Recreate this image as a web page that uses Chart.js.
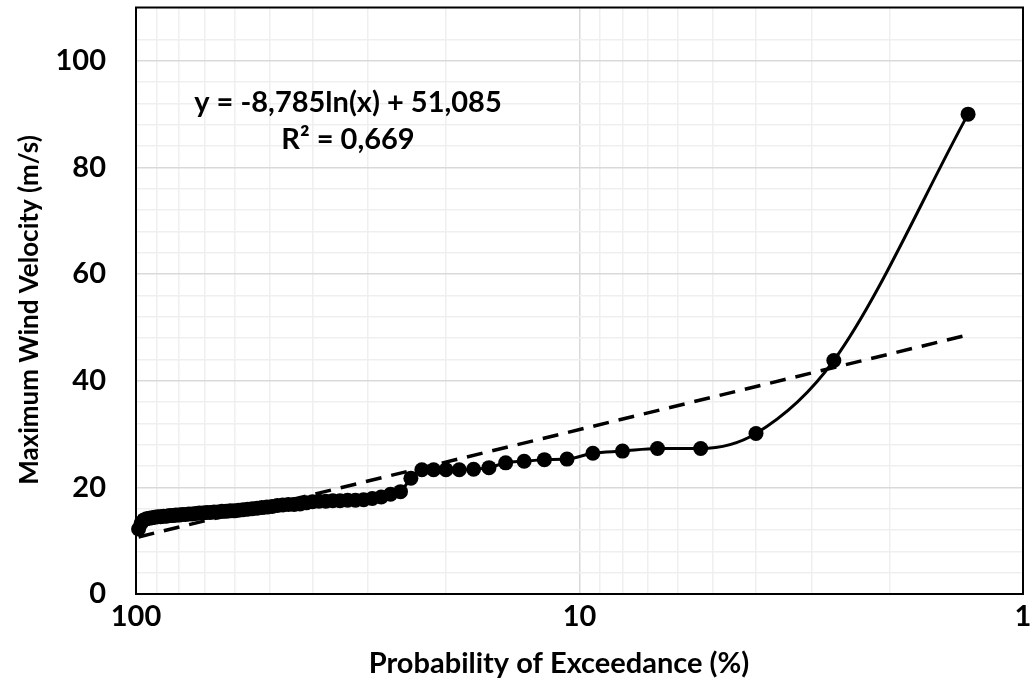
<!DOCTYPE html>
<html>
<head>
<meta charset="utf-8">
<script src="https://cdn.jsdelivr.net/npm/chart.js@4/dist/chart.umd.min.js"></script>
<style>
  html, body { margin: 0; padding: 0; background: #fff; }
  canvas { display: block; }
</style>
</head>
<body>
<canvas id="myChart" width="1031" height="688"></canvas>
<script>
// probability of exceedance (%) for each ranked wind velocity
const exceedance = [1.33, 2.67, 4.00, 5.33, 6.67, 8.00, 9.33, 10.67, 12.00, 13.33,
  14.67, 16.00, 17.33, 18.67, 20.00, 21.33, 22.67, 24.00, 25.33, 26.67,
  28.00, 29.33, 30.67, 32.00, 33.33, 34.67, 36.00, 37.33, 38.67, 40.00,
  41.33, 42.67, 44.00, 45.33, 46.67, 48.00, 49.33, 50.67, 52.00, 53.33,
  54.67, 56.00, 57.33, 58.67, 60.00, 61.33, 62.67, 64.00, 65.33, 66.67,
  68.00, 69.33, 70.67, 72.00, 73.33, 74.67, 76.00, 77.33, 78.67, 80.00,
  81.33, 82.67, 84.00, 85.33, 86.67, 88.00, 89.33, 90.67, 92.00, 93.33,
  94.67, 96.00, 97.33, 98.67];

// maximum wind velocity (m/s)
const velocity = [90.0, 43.8, 30.1, 27.3, 27.3, 26.8, 26.4, 25.3, 25.2, 24.9,
  24.6, 23.7, 23.4, 23.3, 23.3, 23.3, 23.3, 21.7, 19.2, 18.7,
  18.2, 17.9, 17.7, 17.6, 17.6, 17.5, 17.5, 17.4, 17.4, 17.3,
  17.1, 16.9, 16.8, 16.8, 16.7, 16.6, 16.4, 16.3, 16.2, 16.1,
  16.0, 15.9, 15.8, 15.7, 15.6, 15.6, 15.5, 15.5, 15.4, 15.4,
  15.3, 15.3, 15.2, 15.2, 15.1, 15.0, 15.0, 14.9, 14.9, 14.8,
  14.8, 14.7, 14.7, 14.6, 14.6, 14.5, 14.5, 14.4, 14.3, 14.2,
  14.1, 13.9, 13.3, 12.2];

// log trendline end points
const trendX = [98.67, 1.33];
const trendY = [10.7, 48.6];

// axis ticks
const xTicks = [1, 2, 3, 4, 5, 6, 7, 8, 9, 10, 20, 30, 40, 50, 60, 70, 80, 90, 100];
const xLabels = [1, 10, 100];
const yLabels = [0, 20, 40, 60, 80, 100];

const xTitle = "Probability of Exceedance (%)";
const yTitle = "Maximum Wind Velocity (m/s)";
const equationLines = ["y = -8,785ln(x) + 51,085", "R\u00b2 = 0,669"];

const font = "Lato";
const fontSize = 29;
const majorGrid = "#d9d9d9";
const minorGrid = "#efefef";

// frame around the plot area, axis titles and the trendline equation
const framePlugin = {
  id: "frame",
  beforeDatasetsDraw(chart) {
    const { ctx, chartArea } = chart;
    ctx.save();
    ctx.strokeStyle = "#000";
    ctx.lineWidth = 2;
    ctx.strokeRect(chartArea.left, chartArea.top,
      chartArea.right - chartArea.left, chartArea.bottom - chartArea.top);
    ctx.restore();
  },
  afterDraw(chart) {
    const { ctx } = chart;
    ctx.save();
    ctx.fillStyle = "#000";
    ctx.font = "bold " + fontSize + "px " + font;
    ctx.textAlign = "center";
    ctx.textBaseline = "middle";
    ctx.fillText(equationLines[0], 348, 103);
    ctx.fillText(equationLines[1], 348, 140);
    ctx.fillText(xTitle, 559, 664);
    ctx.translate(30, 310);
    ctx.rotate(-Math.PI / 2);
    ctx.font = "bold 26px " + font;
    ctx.fillText(yTitle, 0, 0);
    ctx.restore();
  },
};

const ctx = document.getElementById("myChart").getContext("2d");

let myChart = new Chart(ctx, {
  type: "line",
  data: {
    datasets: [
      {
        label: "Wind velocity",
        data: exceedance.map((x, i) => ({ x: x, y: velocity[i] })),
        borderColor: "#000",
        backgroundColor: "#000",
        borderWidth: 3,
        pointRadius: 7.5,
        pointBorderWidth: 0,
        pointBackgroundColor: "#000",
        cubicInterpolationMode: "monotone",
        clip: false,
        order: 1,
      },
      {
        label: "Trend",
        data: trendX.map((x, i) => ({ x: x, y: trendY[i] })),
        borderColor: "#000",
        borderWidth: 3.5,
        borderDash: [16, 10],
        pointRadius: 0,
        tension: 0,
        order: 2,
      },
    ],
  },
  options: {
    responsive: false,
    animation: false,
    layout: { padding: { left: 0, right: 8, top: 6, bottom: 0 } },
    plugins: {
      legend: { display: false },
      tooltip: { enabled: false },
    },
    scales: {
      x: {
        type: "logarithmic",
        reverse: true,
        min: 1,
        max: 100,
        afterBuildTicks: (scale) => {
          scale.ticks = xTicks.map((v) => ({ value: v }));
        },
        afterFit: (scale) => {
          scale.height = 94;
          scale.paddingLeft = 0;
          scale.paddingRight = 0;
        },
        border: { display: false },
        grid: {
          drawTicks: false,
          color: (c) => (xLabels.includes(c.tick.value) ? majorGrid : minorGrid),
          lineWidth: 1.5,
        },
        ticks: {
          autoSkip: false,
          maxRotation: 0,
          padding: 5,
          color: "#000",
          font: { family: font, size: fontSize, weight: "bold" },
          callback: (v) => (xLabels.includes(v) ? String(v) : ""),
        },
      },
      y: {
        min: 0,
        max: 110,
        afterFit: (scale) => {
          scale.width = 136;
          scale.paddingTop = 0;
          scale.paddingBottom = 0;
        },
        border: { display: false },
        grid: {
          drawTicks: false,
          color: (c) => (yLabels.includes(c.tick.value) ? majorGrid : minorGrid),
          lineWidth: 1.5,
        },
        ticks: {
          stepSize: 4,
          autoSkip: false,
          padding: 30,
          color: "#000",
          font: { family: font, size: fontSize, weight: "bold" },
          callback: (v) => (yLabels.includes(v) ? String(v) : ""),
        },
      },
    },
  },
  plugins: [framePlugin],
});
</script>
</body>
</html>
